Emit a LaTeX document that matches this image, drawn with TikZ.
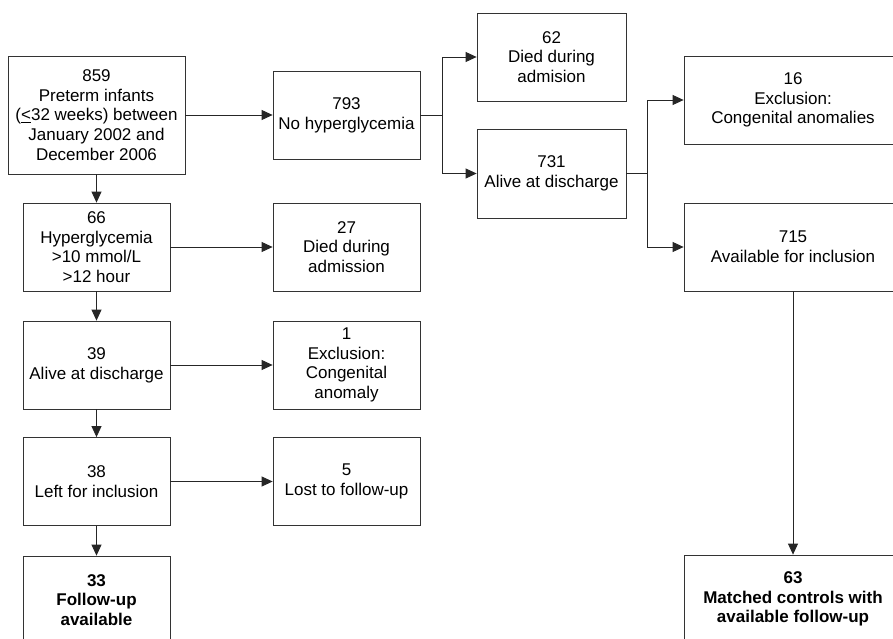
\documentclass[tikz,border=0pt]{standalone}
\usepackage{fontspec}
\setmainfont{Liberation Sans}
\usetikzlibrary{arrows.meta}
\begin{document}
\begin{tikzpicture}[x=1pt,y=-1pt,
  box/.style={draw=black!80,line width=0.8pt,rectangle,align=center,inner sep=0pt,
    font=\fontsize{17}{19.7}\selectfont},
  lbox/.style={box,minimum width=147pt,minimum height=88pt},
  wbox/.style={box,minimum width=218pt,minimum height=88pt},
  arr/.style={draw=black!85,line width=0.8pt,-{Triangle[length=11pt,width=10pt]}},
  ln/.style={draw=black!85,line width=0.8pt}]
\useasboundingbox (0,0) rectangle (893,639);
\clip (0,0) rectangle (893,639);
\fill[white] (0,0) rectangle (893,639);
% left column
\node[box,minimum width=177pt,minimum height=118pt] (n859) at (96.5,115)
  {859\\Preterm infants\\(\underline{<}32 weeks) between\\January 2002 and\\December 2006};
\node[lbox] (n66) at (96.5,247) {66\\Hyperglycemia\\>10 mmol/L\\>12 hour};
\node[lbox] (n39) at (96.5,365) {39\\Alive at discharge};
\node[lbox] (n38) at (96.5,481.5) {38\\Left for inclusion};
\node[lbox,font=\fontsize{17}{19.7}\selectfont\bfseries] (n33) at (96.5,600) {33\\Follow-up\\available};
% second column
\node[lbox] (n27) at (346.5,247) {27\\Died during\\admission};
\node[lbox] (n1) at (346.5,365) {1\\Exclusion:\\Congenital\\anomaly};
\node[lbox] (n5) at (346.5,481.5) {5\\Lost to follow-up};
\node[lbox] (n793) at (346.5,115) {793\\No hyperglycemia};
% third column
\node[box,minimum width=149pt,minimum height=88pt] (n62) at (551.5,57) {62\\Died during\\admision};
\node[box,minimum width=149pt,minimum height=89pt] (n731) at (551.5,173.5) {731\\Alive at discharge};
% right column
\node[wbox] (n16) at (793,100) {16\\Exclusion:\\Congenital anomalies};
\node[wbox] (n715) at (793,247) {715\\Available for inclusion};
\node[wbox,font=\fontsize{17}{19.7}\selectfont\bfseries] (n63) at (793,599) {63\\Matched controls with\\available follow-up};
% connectors
\draw[arr] (n859.south) -- (n66.north);
\draw[arr] (n66.south) -- (n39.north);
\draw[arr] (n39.south) -- (n38.north);
\draw[arr] (n38.south) -- (n33.north);
\draw[arr] (n66.east) -- (n27.west);
\draw[arr] (n39.east) -- (n1.west);
\draw[arr] (n38.east) -- (n5.west);
\draw[arr] (n859.east) -- (n793.west);
\coordinate (b1) at (442,115);
\draw[ln] (n793.east) -- (b1);
\draw[arr] (b1) |- (n62.west);
\draw[arr] (b1) |- (n731.west);
\coordinate (b2) at (647,173.5);
\draw[ln] (n731.east) -- (b2);
\draw[arr] (b2) |- (n16.west);
\draw[arr] (b2) |- (n715.west);
\draw[arr] (n715.south) -- (n63.north);
\end{tikzpicture}
\end{document}
